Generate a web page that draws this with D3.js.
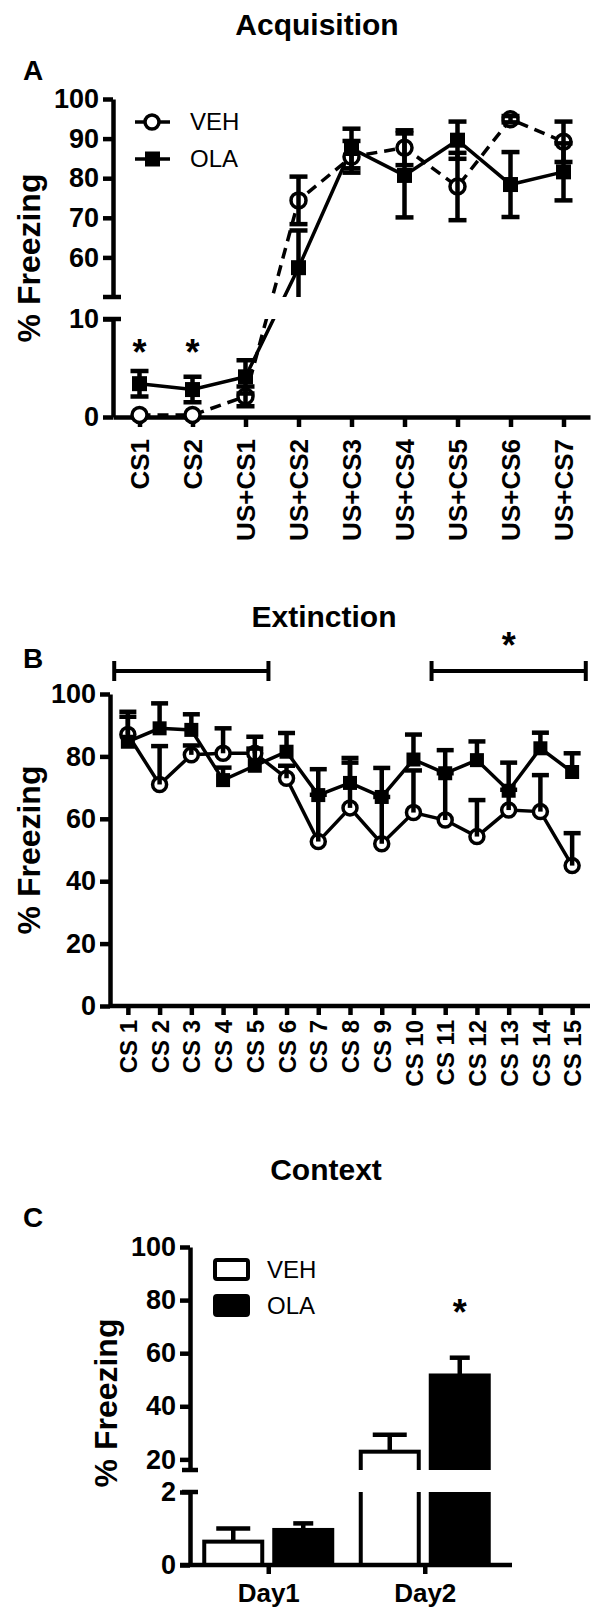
<!DOCTYPE html>
<html><head><meta charset="utf-8">
<script src="https://cdn.jsdelivr.net/npm/d3@7"></script>
<style>body{margin:0;background:#fff} svg{display:block}</style>
</head><body><svg id="c" width="602" height="1618"></svg>
<script>
// ---------- DATA ----------
const acqCategories = ["CS1","CS2","US+CS1","US+CS2","US+CS3","US+CS4","US+CS5","US+CS6","US+CS7"];
const acqVEH    = [0.2, 0.2, 2.1, 74.4, 85.4, 87.7, 77.9, 94.9, 89.2];
const acqVEHerr = [0,   0,   1.0, 6.0,  4.0,  4.4,  8.5,  0.8,  5.1];
const acqOLA    = [3.4, 2.8, 4.1, 57.4, 87.5, 80.7, 89.6, 78.4, 81.6];
const acqOLAerr = [1.3, 1.3, 1.7, 9.4,  5.0,  10.6, 4.7,  8.2,  7.2];
const acqStars  = ["CS1","CS2"];

const extCategories = ["CS 1","CS 2","CS 3","CS 4","CS 5","CS 6","CS 7","CS 8","CS 9","CS 10","CS 11","CS 12","CS 13","CS 14","CS 15"];
const extVEH    = [87, 71, 80.5, 81, 81, 73, 52.7, 63.5, 52, 62, 59.6, 54.3, 62.8, 62.3, 45];
const extVEHerr = [5.7, 12.3, 3, 8, 5.3, 4, 15, 16, 15, 13.5, 15, 11.7, 6.5, 11.7, 10.4];
const extOLA    = [84.7, 89, 88.5, 72.4, 77, 81.5, 67.6, 71.5, 67, 79, 74.6, 78.8, 69, 82.6, 75];
const extOLAerr = [9.6, 8, 5, 4, 5.5, 6, 8.3, 6.5, 9.3, 8, 7.4, 6, 9, 5, 6];
const extBars   = [["CS 1","CS 5",""],["CS 11","CS 15","*"]];

const ctxDays   = ["Day1","Day2"];
const ctxGroups = ["VEH","OLA"];
const ctxVEH    = [0.64, 22.9];
const ctxVEHerr = [0.36, 6.4];
const ctxOLA    = [0.96, 51.6];
const ctxOLAerr = [0.18, 6.7];
const ctxStars  = ["Day2"];

const yTicksAupper = [60,70,80,90,100];
const yTicksAlower = [0,10];
const yTicksB = [0,20,40,60,80,100];
const yTicksCupper = [20,40,60,80,100];
const yTicksClower = [0,2];

// ---------- STYLE ----------
const F = '"Liberation Sans", Arial, Helvetica, sans-serif';
const AW = 4.5;
const TF = 27;
const fmt = d3.format("d");
const svg = d3.select("#c");

function styleAxis(g, fs){
  g.attr("font-family",F).attr("font-size",fs).attr("font-weight","bold");
  g.select(".domain").attr("stroke","#000").attr("stroke-width",AW);
  g.selectAll(".tick line").attr("stroke","#000").attr("stroke-width",AW);
  g.selectAll(".tick text").attr("fill","#000");
  return g;
}
function txt(x,y,s,fs,opts={}){
  return svg.append("text").attr("x",x).attr("y",y).text(s)
    .attr("font-family",F).attr("font-size",fs)
    .attr("font-weight",opts.weight||"bold")
    .attr("text-anchor",opts.anchor||"start").attr("fill","#000");
}
function ylabel(x,y,s){
  svg.append("text").attr("transform",`translate(${x},${y}) rotate(-90)`)
    .attr("text-anchor","middle").attr("font-family",F).attr("font-size",32)
    .attr("font-weight","bold").text(s);
}
function cap(x,y,w){ svg.append("line").attr("x1",x-w/2).attr("x2",x+w/2).attr("y1",y).attr("y2",y).attr("stroke","#000").attr("stroke-width",AW); }

const defs = svg.append("defs");

// ================= PANEL A =================
txt(317,35,"Acquisition",30,{anchor:"middle"});
txt(23,80,"A",28);
ylabel(40,258,"% Freezing");

const xA = d3.scalePoint().domain(acqCategories).range([113,590]).padding(0.5);
const yAup = d3.scaleLinear().domain([50,100]).range([297,99]);
const yAlo = d3.scaleLinear().domain([0,10]).range([417,319]);
const segA = v => v >= 30 ? yAup : yAlo;

styleAxis(svg.append("g").attr("transform","translate(113,0)")
  .call(d3.axisLeft(yAup).tickValues(yTicksAupper).tickFormat(fmt).tickSize(10).tickSizeOuter(0).tickPadding(4)),TF);
styleAxis(svg.append("g").attr("transform","translate(113,0)")
  .call(d3.axisLeft(yAlo).tickValues(yTicksAlower).tickFormat(fmt).tickSize(10).tickSizeOuter(0).tickPadding(4)),TF);
cap(112, yAup(50), 18); cap(112, yAlo(10), 18);
const gAx = styleAxis(svg.append("g").attr("transform","translate(0,417)")
  .call(d3.axisBottom(xA).tickSize(10).tickSizeOuter(0)),26);
gAx.selectAll(".tick text").attr("transform","rotate(-90)").attr("text-anchor","end")
  .attr("x",-22).attr("y",0).attr("dy","0.36em");

const clipA = defs.append("clipPath").attr("id","clipA");
clipA.append("rect").attr("x",0).attr("y",0).attr("width",602).attr("height",yAup(50));
clipA.append("rect").attr("x",0).attr("y",yAlo(10)).attr("width",602).attr("height",140);

function ptsA(vals){ return vals.map((v,i)=>[xA(acqCategories[i]), segA(v)(v)]); }
const gA = svg.append("g").attr("clip-path","url(#clipA)");
gA.append("path").attr("d",d3.line()(ptsA(acqVEH))).attr("fill","none").attr("stroke","#000")
  .attr("stroke-width",3.5).attr("stroke-dasharray","11,7");
gA.append("path").attr("d",d3.line()(ptsA(acqOLA))).attr("fill","none").attr("stroke","#000")
  .attr("stroke-width",3.5);

// markers
svg.append("g").selectAll("circle").data(acqVEH).join("circle")
  .attr("cx",(v,i)=>xA(acqCategories[i])).attr("cy",v=>segA(v)(v)).attr("r",7.5)
  .attr("fill","#fff").attr("stroke","#000").attr("stroke-width",3.5);
svg.append("g").selectAll("rect").data(acqOLA).join("rect")
  .attr("x",(v,i)=>xA(acqCategories[i])-7.5).attr("y",v=>segA(v)(v)-7.5)
  .attr("width",15).attr("height",15).attr("fill","#000");

// error bars (two-sided)
function errA(vals, errs){
  const g = svg.append("g").attr("clip-path","url(#clipA)");
  vals.forEach((v,i)=>{
    const e = errs[i]; if (e < 0.5) return;
    const s = segA(v), x = xA(acqCategories[i]);
    g.append("line").attr("x1",x).attr("x2",x).attr("y1",s(v-e)).attr("y2",s(v+e)).attr("stroke","#000").attr("stroke-width",AW);
    [v-e, v+e].forEach(t=>g.append("line").attr("x1",x-9).attr("x2",x+9).attr("y1",s(t)).attr("y2",s(t)).attr("stroke","#000").attr("stroke-width",AW));
  });
}
errA(acqVEH, acqVEHerr);
errA(acqOLA, acqOLAerr);
acqStars.forEach(c=>txt(xA(c),365,"*",36,{anchor:"middle"}));

// legend A
[["VEH",122,"c"],["OLA",159,"s"]].forEach(([t,y,k])=>{
  svg.append("line").attr("x1",135).attr("x2",170).attr("y1",y).attr("y2",y).attr("stroke","#000").attr("stroke-width",3.5);
  if(k==="c") svg.append("circle").attr("cx",152).attr("cy",y).attr("r",7).attr("fill","#fff").attr("stroke","#000").attr("stroke-width",3.5);
  else svg.append("rect").attr("x",145).attr("y",y-7.5).attr("width",15).attr("height",15).attr("fill","#000");
  txt(190,y+8,t,24,{weight:"normal"});
});

// ================= PANEL B =================
txt(324,627,"Extinction",30,{anchor:"middle"});
txt(23,668,"B",28);
ylabel(40,850,"% Freezing");

const xB = d3.scalePoint().domain(extCategories).range([112,588]).padding(0.5);
const yB = d3.scaleLinear().domain([0,100]).range([1006,694]);
styleAxis(svg.append("g").attr("transform","translate(110,0)")
  .call(d3.axisLeft(yB).tickValues(yTicksB).tickFormat(fmt).tickSize(10).tickSizeOuter(0).tickPadding(4)),TF);
const gBx = styleAxis(svg.append("g").attr("transform","translate(0,1006)")
  .call(d3.axisBottom(xB).tickSize(9).tickSizeOuter(0)),24);
gBx.select(".domain").attr("d","M110,0H590");
gBx.selectAll(".tick text").attr("transform","rotate(-90)").attr("text-anchor","end")
  .attr("x",-14).attr("y",0).attr("dy","0.36em");

function ptsB(vals){ return vals.map((v,i)=>[xB(extCategories[i]), yB(v)]); }
svg.append("path").attr("d",d3.line()(ptsB(extVEH))).attr("fill","none").attr("stroke","#000").attr("stroke-width",3.5);
svg.append("path").attr("d",d3.line()(ptsB(extOLA))).attr("fill","none").attr("stroke","#000").attr("stroke-width",3.5);
svg.append("g").selectAll("circle").data(extVEH).join("circle")
  .attr("cx",(v,i)=>xB(extCategories[i])).attr("cy",v=>yB(v)).attr("r",7)
  .attr("fill","#fff").attr("stroke","#000").attr("stroke-width",3.5);
svg.append("g").selectAll("rect").data(extOLA).join("rect")
  .attr("x",(v,i)=>xB(extCategories[i])-7).attr("y",v=>yB(v)-7)
  .attr("width",14).attr("height",14).attr("fill","#000");
function errB(vals, errs){
  vals.forEach((v,i)=>{
    const x = xB(extCategories[i]), e = errs[i];
    svg.append("line").attr("x1",x).attr("x2",x).attr("y1",yB(v)).attr("y2",yB(v+e)).attr("stroke","#000").attr("stroke-width",AW);
    cap(x, yB(v+e), 17);
  });
}
errB(extVEH, extVEHerr);
errB(extOLA, extOLAerr);

const stepB = xB.step();
extBars.forEach(([a,b,s])=>{
  const x1 = xB(a)-0.43*stepB, x2 = xB(b)+0.43*stepB, y = 671;
  svg.append("line").attr("x1",x1).attr("x2",x2).attr("y1",y).attr("y2",y).attr("stroke","#000").attr("stroke-width",4);
  [x1,x2].forEach(x=>svg.append("line").attr("x1",x).attr("x2",x).attr("y1",y-10).attr("y2",y+10).attr("stroke","#000").attr("stroke-width",4));
  if(s) txt((x1+x2)/2,658,s,36,{anchor:"middle"});
});

// ================= PANEL C =================
txt(326,1180,"Context",30,{anchor:"middle"});
txt(23,1227,"C",28);
ylabel(117,1403,"% Freezing");

const xC = d3.scalePoint().domain(ctxDays).range([190,503]).padding(0.5);
const xCin = d3.scaleBand().domain(ctxGroups).range([-64,64]).paddingInner(12/70);
const yCup = d3.scaleLinear().domain([16,100]).range([1470,1247]);
const yClo = d3.scaleLinear().domain([0,2]).range([1565,1492]);

styleAxis(svg.append("g").attr("transform","translate(190,0)")
  .call(d3.axisLeft(yCup).tickValues(yTicksCupper).tickFormat(fmt).tickSize(10).tickSizeOuter(0).tickPadding(4)),TF);
styleAxis(svg.append("g").attr("transform","translate(190,0)")
  .call(d3.axisLeft(yClo).tickValues(yTicksClower).tickFormat(fmt).tickSize(10).tickSizeOuter(0).tickPadding(4)),TF);
cap(190, yCup(16), 16); cap(190, yClo(2), 16);

const clipCu = defs.append("clipPath").attr("id","clipCu");
clipCu.append("rect").attr("x",0).attr("y",0).attr("width",602).attr("height",yCup(16));
const clipCl = defs.append("clipPath").attr("id","clipCl");
clipCl.append("rect").attr("x",0).attr("y",yClo(2)).attr("width",602).attr("height",200);

const barsC = [];
ctxDays.forEach((d,i)=>{
  barsC.push({day:d, grp:"VEH", v:ctxVEH[i], e:ctxVEHerr[i]});
  barsC.push({day:d, grp:"OLA", v:ctxOLA[i], e:ctxOLAerr[i]});
});
const gCu = svg.append("g").attr("clip-path","url(#clipCu)");
const gCl = svg.append("g").attr("clip-path","url(#clipCl)");
barsC.forEach(b=>{
  const x = xC(b.day)+xCin(b.grp), w = xCin.bandwidth();
  const fill = b.grp==="VEH" ? "#fff" : "#000";
  const top = yClo(Math.min(b.v, 2.4));
  gCl.append("rect").attr("x",x).attr("y",top).attr("width",w).attr("height",yClo(0)-top)
    .attr("fill",fill).attr("stroke","#000").attr("stroke-width",4);
  if (b.v > 16){
    const t2 = yCup(b.v), bot = yCup(12);
    gCu.append("rect").attr("x",x).attr("y",t2).attr("width",w).attr("height",bot-t2)
      .attr("fill",fill).attr("stroke","#000").attr("stroke-width",4);
  }
  const s = b.v > 16 ? yCup : yClo, cx = x + w/2, cw = b.grp==="VEH" ? 34 : 20;
  svg.append("line").attr("x1",cx).attr("x2",cx).attr("y1",s(b.v)).attr("y2",s(b.v+b.e)).attr("stroke","#000").attr("stroke-width",AW);
  cap(cx, s(b.v+b.e), cw);
});

const gCx = styleAxis(svg.append("g").attr("transform","translate(0,1565)")
  .call(d3.axisBottom(xC).tickSize(9).tickSizeOuter(0).tickPadding(10)),26);
gCx.select(".domain").attr("d","M180,0H512");
ctxStars.forEach(d=>txt(xC(d)+xCin("OLA")+xCin.bandwidth()/2,1325,"*",36,{anchor:"middle"}));

// legend C
[["VEH",1260,"#fff"],["OLA",1296,"#000"]].forEach(([t,y,f])=>{
  svg.append("rect").attr("x",215).attr("y",y).attr("width",33).attr("height",19).attr("rx",2)
    .attr("fill",f).attr("stroke","#000").attr("stroke-width",4);
  txt(267,y+18,t,24,{weight:"normal"});
});
</script>
</body></html>
